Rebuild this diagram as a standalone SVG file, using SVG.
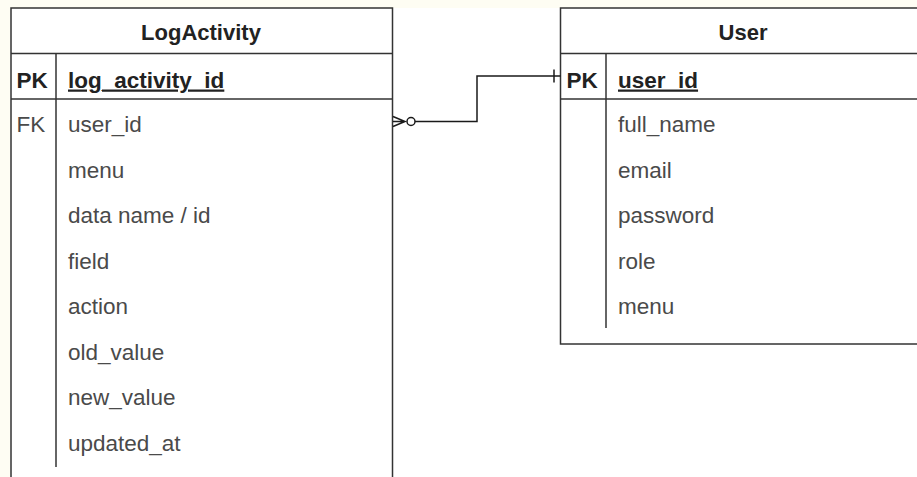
<svg xmlns="http://www.w3.org/2000/svg" width="917" height="477" viewBox="0 0 917 477">
  <style>
    .frame { fill: #ffffff; stroke: #333333; stroke-width: 1.5; }
    .rule { fill: none; stroke: #333333; stroke-width: 1.5; }
    .title { font-family: "Liberation Sans", Arial, sans-serif; font-size: 22px; font-weight: bold; fill: #222222; text-anchor: middle; }
    .key { font-family: "Liberation Sans", Arial, sans-serif; font-size: 22.5px; font-weight: bold; fill: #222222; }
    .fk { font-family: "Liberation Sans", Arial, sans-serif; font-size: 22.5px; fill: #4a4a4a; }
    .pkfield { font-family: "Liberation Sans", Arial, sans-serif; font-size: 22.5px; font-weight: bold; fill: #222222; text-decoration: underline; }
    .field { font-family: "Liberation Sans", Arial, sans-serif; font-size: 22.5px; fill: #4a4a4a; }
    .edge { fill: none; stroke: #1a1a1a; stroke-width: 1.5; }
  </style>

  <!-- canvas -->
  <rect x="0" y="0" width="917" height="477" fill="#fefdf3"/>
  <rect x="10" y="8" width="907" height="469" fill="#ffffff"/>

  <!-- LogActivity table -->
  <g id="LogActivity">
    <rect class="frame" x="11" y="8" width="381.5" height="480"/>
    <line class="rule" x1="11" y1="53.5" x2="392.5" y2="53.5"/>
    <line class="rule" x1="11" y1="99" x2="392.5" y2="99"/>
    <line class="rule" x1="56" y1="53.5" x2="56" y2="99"/>
    <line class="rule" x1="56" y1="99" x2="56" y2="467"/>
    <text class="title" x="201" y="39.5">LogActivity</text>
    <text class="key" x="16.5" y="87.5">PK</text>
    <text class="pkfield" x="68" y="87.5">log_activity_id</text>
    <text class="fk" x="16.5" y="132">FK</text>
    <text class="field" x="68" y="132">user_id</text>
    <text class="field" x="68" y="177.5">menu</text>
    <text class="field" x="68" y="223">data name / id</text>
    <text class="field" x="68" y="268.5">field</text>
    <text class="field" x="68" y="314">action</text>
    <text class="field" x="68" y="359.5">old_value</text>
    <text class="field" x="68" y="405">new_value</text>
    <text class="field" x="68" y="450.5">updated_at</text>
  </g>

  <!-- User table -->
  <g id="User">
    <rect class="frame" x="560.5" y="8" width="370" height="336"/>
    <line class="rule" x1="560.5" y1="53.5" x2="930" y2="53.5"/>
    <line class="rule" x1="560.5" y1="99" x2="930" y2="99"/>
    <line class="rule" x1="606" y1="53.5" x2="606" y2="99"/>
    <line class="rule" x1="606" y1="99" x2="606" y2="328"/>
    <text class="title" x="743" y="39.5">User</text>
    <text class="key" x="566.5" y="87.5">PK</text>
    <text class="pkfield" x="618" y="87.5">user_id</text>
    <text class="field" x="618" y="132">full_name</text>
    <text class="field" x="618" y="177.5">email</text>
    <text class="field" x="618" y="223">password</text>
    <text class="field" x="618" y="268.5">role</text>
    <text class="field" x="618" y="314">menu</text>
  </g>

  <!-- relationship: many log entries (zero or more) to one user -->
  <g id="connectors">
    <path class="edge" d="M415,121.5 H477 V76 H560.5"/>
    <!-- crow's foot with optional circle at LogActivity -->
    <path class="edge" d="M393,116.5 L405,121.5 L393,126.5 M393,121.5 H405"/>
    <circle class="edge" cx="411" cy="121.5" r="4"/>
    <!-- single bar at User -->
    <line class="edge" x1="554" y1="69.5" x2="554" y2="82.5"/>
  </g>
</svg>
